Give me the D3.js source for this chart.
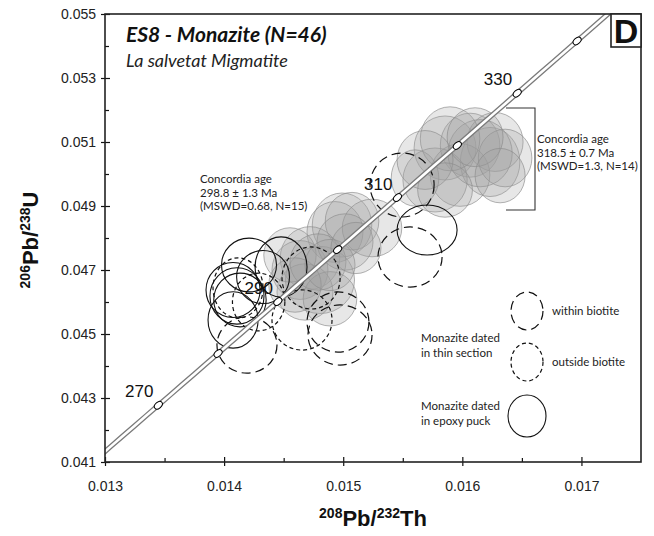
<!DOCTYPE html>
<html><head><meta charset="utf-8">
<script src="https://cdn.jsdelivr.net/npm/d3@7/dist/d3.min.js"></script>
<style>
html,body{margin:0;padding:0;background:#fff;}
svg text{font-family:"Liberation Sans",Arial,sans-serif;}
.my{font-family:Lato,"Open Sans",sans-serif;}
</style></head>
<body><svg id="c" width="654" height="536"></svg>
<script>
// ---- data ----
const xTicks = [0.013, 0.014, 0.015, 0.016, 0.017];
const xMinor = [0.0135, 0.0145, 0.0155, 0.0165];
const yTicks = [0.041, 0.043, 0.045, 0.047, 0.049, 0.051, 0.053, 0.055];
const yMinor = [0.042, 0.044, 0.046, 0.048, 0.050, 0.052, 0.054];
const concordiaAges = [260, 270, 280, 290, 300, 310, 320, 330, 340, 350];
const labeledAges = [270, 290, 310, 330];
// ellipses: [208Pb/232Th, 206Pb/238U, half-width x, half-height y]
const grayUpper = [
  [0.015855, 0.050813, 0.000260, 0.00100],
  [0.016065, 0.050900, 0.000250, 0.00100],
  [0.016233, 0.050375, 0.000250, 0.00108],
  [0.016275, 0.051000, 0.000235, 0.00092],
  [0.015981, 0.049969, 0.000250, 0.00098],
  [0.015771, 0.049813, 0.000270, 0.00100],
  [0.015603, 0.049875, 0.000200, 0.00088],
  [0.016149, 0.050650, 0.000270, 0.00105],
  [0.016359, 0.050500, 0.000225, 0.00090],
  [0.015897, 0.051100, 0.000250, 0.00100],
  [0.016107, 0.051150, 0.000235, 0.00092],
  [0.015687, 0.050438, 0.000235, 0.00092],
  [0.016317, 0.049950, 0.000210, 0.00085],
  [0.015855, 0.049500, 0.000230, 0.00085]
];
const grayLower = [
  [0.014990, 0.048406, 0.000250, 0.00100],
  [0.014931, 0.048188, 0.000235, 0.00095],
  [0.015074, 0.048525, 0.000225, 0.00090],
  [0.015242, 0.048313, 0.000250, 0.00090],
  [0.014721, 0.047375, 0.000250, 0.00098],
  [0.014637, 0.047000, 0.000235, 0.00092],
  [0.014805, 0.046688, 0.000290, 0.00105],
  [0.014679, 0.046313, 0.000235, 0.00088],
  [0.014889, 0.046100, 0.000225, 0.00085],
  [0.014553, 0.047470, 0.000220, 0.00085],
  [0.015015, 0.047875, 0.000235, 0.00088],
  [0.014788, 0.047250, 0.000235, 0.00088],
  [0.014595, 0.046531, 0.000220, 0.00085],
  [0.014889, 0.047156, 0.000210, 0.00080],
  [0.015107, 0.047688, 0.000210, 0.00080]
];
const epoxy = [
  [0.015704, 0.048250, 0.000252, 0.00078],
  [0.014209, 0.047156, 0.000231, 0.00084],
  [0.014478, 0.047094, 0.000218, 0.00094],
  [0.014327, 0.046781, 0.000222, 0.00083],
  [0.014075, 0.046375, 0.000227, 0.00086],
  [0.014108, 0.046188, 0.000227, 0.00088],
  [0.014133, 0.046063, 0.000220, 0.00084],
  [0.014075, 0.045438, 0.000210, 0.00088]
];
const withinBiotite = [
  [0.015494, 0.049656, 0.000269, 0.00100],
  [0.015561, 0.047406, 0.000269, 0.00094],
  [0.014956, 0.045375, 0.000260, 0.00094],
  [0.014973, 0.044969, 0.000269, 0.00094],
  [0.014192, 0.044656, 0.000252, 0.00088]
];
const outsideBiotite = [
  [0.014730, 0.046750, 0.000244, 0.00097],
  [0.014654, 0.045438, 0.000252, 0.00094],
  [0.014117, 0.046438, 0.000210, 0.00094],
  [0.014290, 0.046000, 0.000220, 0.00090]
];

// ---- layout ----
const M = {left: 105, right: 641, top: 14, bottom: 462};
const x = d3.scaleLinear().domain([0.013, 0.0175]).range([M.left, M.right]);
const y = d3.scaleLinear().domain([0.041, 0.055]).range([M.bottom, M.top]);
const svg = d3.select("#c");

svg.append("defs").append("clipPath").attr("id", "clip")
  .append("rect").attr("x", M.left).attr("y", M.top)
  .attr("width", M.right - M.left).attr("height", M.bottom - M.top);

const plot = svg.append("g").attr("clip-path", "url(#clip)");

function drawEll(g, data, cls) {
  return g.selectAll("ellipse." + cls).data(data).join("ellipse")
    .attr("class", cls)
    .attr("cx", d => x(d[0])).attr("cy", d => y(d[1]))
    .attr("rx", d => x(d[0] + d[2]) - x(d[0]))
    .attr("ry", d => y(d[1]) - y(d[1] + d[3]));
}
drawEll(plot, grayUpper.concat(grayLower), "gray")
  .attr("fill", "#a0a0a0").attr("fill-opacity", 0.25)
  .attr("stroke", "#8c8c8c").attr("stroke-opacity", 0.75).attr("stroke-width", 0.9);
drawEll(plot, epoxy, "ep")
  .attr("fill", "none").attr("stroke", "#111").attr("stroke-width", 1.1);
drawEll(plot, withinBiotite, "wb")
  .attr("fill", "none").attr("stroke", "#111").attr("stroke-width", 1.2)
  .attr("stroke-dasharray", "9,5");
drawEll(plot, outsideBiotite, "ob")
  .attr("fill", "none").attr("stroke", "#111").attr("stroke-width", 1.2)
  .attr("stroke-dasharray", "4,3");

// concordia
const l232 = 4.9475e-11, l238 = 1.55125e-10;
const conc = t => [Math.expm1(l232 * t * 1e6), Math.expm1(l238 * t * 1e6)];
const curve = d3.range(200, 401, 2).map(conc);
const line = d3.line().x(d => x(d[0])).y(d => y(d[1]));
plot.append("path").datum(curve).attr("d", line)
  .attr("fill", "none").attr("stroke", "#7a7a7a").attr("stroke-width", 5.2);
plot.append("path").datum(curve).attr("d", line)
  .attr("fill", "none").attr("stroke", "#fff").attr("stroke-width", 2.6);
concordiaAges.forEach(t => {
  const p = conc(t), p2 = conc(t + 1);
  const ang = Math.atan2(y(p2[1]) - y(p[1]), x(p2[0]) - x(p[0])) * 180 / Math.PI;
  plot.append("ellipse")
    .attr("transform", `translate(${x(p[0])},${y(p[1])}) rotate(${ang})`)
    .attr("rx", 4.6).attr("ry", 3.0)
    .attr("fill", "#fff").attr("stroke", "#000").attr("stroke-width", 1);
});
labeledAges.forEach(t => {
  const p = conc(t);
  svg.append("text").attr("x", x(p[0]) - 5).attr("y", y(p[1]) - 8)
    .attr("text-anchor", "end").attr("font-size", 17).attr("fill", "#111").text(t);
});

// axes
svg.append("g").attr("transform", `translate(0,${M.bottom})`)
  .call(d3.axisBottom(x).tickValues(xTicks).tickSize(4).tickPadding(15)
        .tickFormat(d3.format(".3f")));
svg.append("g").attr("transform", `translate(0,${M.bottom})`)
  .call(d3.axisTop(x).tickValues(xTicks).tickSize(5).tickFormat(""));
svg.append("g").attr("transform", `translate(0,${M.bottom})`)
  .call(d3.axisTop(x).tickValues(xMinor).tickSize(4).tickFormat(""));
svg.append("g").attr("transform", `translate(${M.left},0)`)
  .call(d3.axisLeft(y).tickValues(yTicks).tickSize(4).tickPadding(5)
        .tickFormat(d3.format(".3f")));
svg.append("g").attr("transform", `translate(${M.left},0)`)
  .call(d3.axisRight(y).tickValues(yTicks).tickSize(5).tickFormat(""));
svg.append("g").attr("transform", `translate(${M.left},0)`)
  .call(d3.axisRight(y).tickValues(yMinor).tickSize(4).tickFormat(""));
svg.selectAll(".domain").remove();
svg.selectAll(".tick line").attr("stroke", "#111").attr("stroke-width", 1.2);
svg.selectAll(".tick text").attr("font-size", 14).attr("fill", "#222")
  .style("font-family", '"Liberation Sans",Arial,sans-serif');

svg.append("rect").attr("x", M.left).attr("y", M.top)
  .attr("width", M.right - M.left).attr("height", M.bottom - M.top)
  .attr("fill", "none").attr("stroke", "#222").attr("stroke-width", 1.6);

// axis titles
const xt = svg.append("text").attr("x", (M.left + M.right) / 2).attr("y", 526)
  .attr("text-anchor", "middle").attr("font-weight", "bold").attr("font-size", 22).attr("fill", "#111");
xt.append("tspan").attr("font-size", 14).attr("dy", -8).text("208");
xt.append("tspan").attr("dy", 8).text("Pb/");
xt.append("tspan").attr("font-size", 14).attr("dy", -8).text("232");
xt.append("tspan").attr("dy", 8).text("Th");
const yt = svg.append("text").attr("transform", "translate(38,240) rotate(-90)")
  .attr("text-anchor", "middle").attr("font-weight", "bold").attr("font-size", 22).attr("fill", "#111");
yt.append("tspan").attr("font-size", 14).attr("dy", -8).text("206");
yt.append("tspan").attr("dy", 8).text("Pb/");
yt.append("tspan").attr("font-size", 14).attr("dy", -8).text("238");
yt.append("tspan").attr("dy", 8).text("U");

// title
svg.append("text").attr("class", "my").attr("x", 126).attr("y", 42)
  .attr("font-size", 21).attr("font-weight", "bold").attr("font-style", "italic")
  .attr("fill", "#111").text("ES8 - Monazite (N=46)");
svg.append("text").attr("class", "my").attr("x", 126).attr("y", 67)
  .attr("font-size", 18).attr("font-style", "italic")
  .attr("fill", "#222").text("La salvetat Migmatite");

// panel label
svg.append("rect").attr("x", 611).attr("y", M.top).attr("width", M.right - 611).attr("height", 33)
  .attr("fill", "#fff").attr("stroke", "#222").attr("stroke-width", 1.6);
svg.append("text").attr("x", 626).attr("y", 43).attr("text-anchor", "middle")
  .attr("font-size", 34).attr("font-weight", "bold").attr("fill", "#111").text("D");

// concordia age annotations
function block(xp, yp, lines, dy) {
  lines.forEach((s, i) => svg.append("text").attr("class", "my").attr("x", xp).attr("y", yp + i * (dy || 13.5))
    .attr("font-size", 11.5).attr("fill", "#222").text(s));
}
block(200, 183, ["Concordia age", "298.8 \u00b1 1.3 Ma", "(MSWD=0.68, N=15)"]);
block(537, 143, ["Concordia age", "318.5 \u00b1 0.7 Ma", "(MSWD=1.3, N=14)"]);
svg.append("path").attr("d", "M506,108H535V210H506").attr("fill", "none")
  .attr("stroke", "#333").attr("stroke-width", 1.1);

// legend
svg.append("ellipse").attr("cx", 527).attr("cy", 311).attr("rx", 16).attr("ry", 19)
  .attr("fill", "none").attr("stroke", "#111").attr("stroke-width", 1.2).attr("stroke-dasharray", "9,5");
svg.append("ellipse").attr("cx", 527).attr("cy", 362).attr("rx", 16).attr("ry", 19)
  .attr("fill", "none").attr("stroke", "#111").attr("stroke-width", 1.2).attr("stroke-dasharray", "4,3");
svg.append("ellipse").attr("cx", 527).attr("cy", 416).attr("rx", 19).attr("ry", 21)
  .attr("fill", "none").attr("stroke", "#111").attr("stroke-width", 1.1);
block(552, 315, ["within biotite"]);
block(552, 366, ["outside biotite"]);
block(421, 342, ["Monazite dated", "in thin section"], 14.5);
block(421, 410, ["Monazite dated", "in epoxy puck"], 14.5);
</script></body></html>
